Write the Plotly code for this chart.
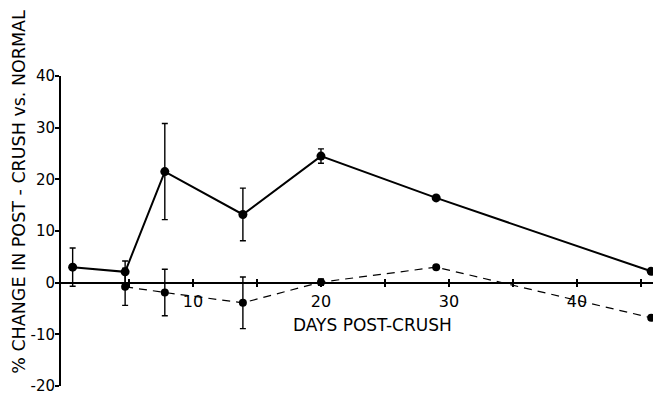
import plotly.graph_objects as go

# Days after nerve crush at which each group was sampled
days_solid = [0.6, 4.7, 7.8, 13.9, 20.0, 29.0, 45.8]
change_solid = [3.0, 2.1, 21.5, 13.2, 24.5, 16.4, 2.2]
err_solid = [3.7, 2.1, 9.3, 5.1, 1.4, 0.0, 0.0]

days_dashed = [4.7, 7.8, 13.9, 20.0, 29.0, 45.8]
change_dashed = [-0.8, -1.9, -3.9, 0.1, 3.0, -6.8]
err_dashed = [3.6, 4.5, 5.0, 0.6, 0.0, 0.0]

x_tick_vals = [5, 10, 15, 20, 25, 30, 35, 40, 45]
x_tick_text = ["", "10", "", "20", "", "30", "", "40", ""]
y_tick_vals = [-20, -10, 0, 10, 20, 30, 40]
y_tick_text = ["-20", "-10", "0", "10", "20", "30", "40"]

FONT = "DejaVu Sans"
X_RANGE = [-0.31, 45.94]
Y_RANGE = [-20, 40]
ZERO_POS = (0 - Y_RANGE[0]) / (Y_RANGE[1] - Y_RANGE[0])

fig = go.Figure()

fig.add_trace(go.Scatter(
    x=days_solid, y=change_solid, mode="lines+markers",
    line=dict(color="black", width=2),
    marker=dict(color="black", size=9),
    error_y=dict(type="data", array=err_solid, color="black",
                 thickness=1.4, width=3),
    showlegend=False,
))

fig.add_trace(go.Scatter(
    x=days_dashed, y=change_dashed, mode="lines+markers",
    line=dict(color="black", width=1.2, dash="8px,6px"),
    marker=dict(color="black", size=8),
    error_y=dict(type="data", array=err_dashed, color="black",
                 thickness=1.4, width=3),
    showlegend=False,
))

# empty trace so the overlay axis (upward tick marks on the zero line) is drawn
fig.add_trace(go.Scatter(x=[], y=[], xaxis="x2", showlegend=False,
                         hoverinfo="skip"))

fig.update_layout(
    width=653, height=395,
    margin=dict(l=61, r=0, t=76, b=6),
    paper_bgcolor="white", plot_bgcolor="white",
    font=dict(family=FONT, color="black", size=14),
    xaxis=dict(
        range=X_RANGE, anchor="free", position=ZERO_POS,
        showline=True, linecolor="black", linewidth=1.5,
        showgrid=False, zeroline=False,
        tickmode="array", tickvals=x_tick_vals, ticktext=x_tick_text,
        ticks="outside", ticklen=4, tickwidth=1.5, tickcolor="black",
        tickfont=dict(size=16, family=FONT),
    ),
    xaxis2=dict(
        range=X_RANGE, overlaying="x", anchor="free", position=ZERO_POS,
        showline=False, showgrid=False, zeroline=False,
        tickmode="array", tickvals=x_tick_vals,
        ticks="inside", ticklen=4, tickwidth=1.5, tickcolor="black",
        showticklabels=False,
    ),
    yaxis=dict(
        range=Y_RANGE, showline=True, linecolor="black", linewidth=2,
        showgrid=False, zeroline=False,
        tickmode="array", tickvals=y_tick_vals, ticktext=y_tick_text,
        ticks="outside", ticklen=4, tickwidth=1.5, tickcolor="black",
        tickfont=dict(size=15, family=FONT),
        ticklabeloverflow="allow", ticklabelstandoff=-3,
    ),
    annotations=[
        dict(text="DAYS POST-CRUSH", x=24.0, y=-8.1, xref="x", yref="y",
             showarrow=False, xanchor="center", yanchor="middle",
             font=dict(size=17, family=FONT)),
        dict(text="% CHANGE IN POST - CRUSH vs. NORMAL", x=-0.070, y=0.625,
             xref="paper", yref="paper", textangle=-90, showarrow=False,
             xanchor="center", yanchor="middle",
             font=dict(size=17.5, family=FONT)),
    ],
)

fig.write_html("out.html")
